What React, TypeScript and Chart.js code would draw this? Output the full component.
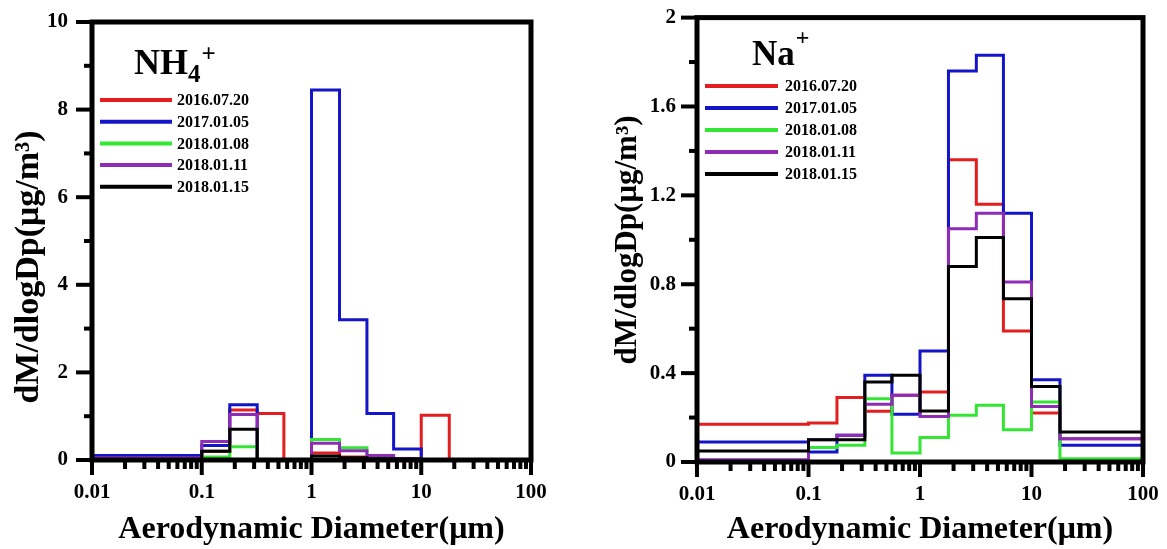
import React, { useEffect, useRef } from 'react';
import { Chart, registerables } from 'chart.js';

Chart.register(...registerables);

// ---------------- data ----------------
const BIN_EDGES = [0.01, 0.1, 0.18, 0.32, 0.56, 1.0, 1.8, 3.2, 5.6, 10, 18, 100];
const SERIES_LABELS = ['2016.07.20', '2017.01.05', '2018.01.08', '2018.01.11', '2018.01.15'];
const SERIES_COLORS = ['#e41e1e', '#1414c8', '#33e633', '#8e2cb5', '#000000'];

// NH4+  (one value per bin)
const NH4_20160720 = [0, 0.2, 1.14, 1.06, 0, 0.16, 0.07, 0.06, 0.02, 1.02, 0];
const NH4_20170105 = [0.1, 0.33, 1.26, 0, 0, 8.45, 3.2, 1.06, 0.25, 0, 0];
const NH4_20180108 = [0, 0.07, 0.3, 0, 0, 0.47, 0.28, 0.05, 0.02, 0, 0];
const NH4_20180111 = [0.05, 0.42, 1.04, 0, 0, 0.38, 0.21, 0.1, 0.03, 0, 0];
const NH4_20180115 = [0, 0.2, 0.7, 0, 0, 0.09, 0.05, 0.03, 0.02, 0, 0];

// Na+
const NA_20160720 = [0.17, 0.175, 0.29, 0.228, 0.3, 0.315, 1.36, 1.16, 0.59, 0.22, 0.105];
const NA_20170105 = [0.09, 0.045, 0.12, 0.39, 0.215, 0.5, 1.76, 1.83, 1.12, 0.37, 0.075];
const NA_20180108 = [0.0, 0.065, 0.075, 0.285, 0.04, 0.11, 0.21, 0.255, 0.145, 0.27, 0.015];
const NA_20180111 = [0.01, 0.1, 0.12, 0.26, 0.3, 0.205, 1.05, 1.12, 0.81, 0.25, 0.105];
const NA_20180115 = [0.05, 0.1, 0.1, 0.36, 0.39, 0.23, 0.88, 1.01, 0.735, 0.34, 0.135];

const X_TICK_LABELS = ['0.01', '0.1', '1', '10', '100'];
const NH4_Y_TICK_LABELS = ['0', '2', '4', '6', '8', '10'];
const NA_Y_TICK_LABELS = ['0', '0.4', '0.8', '1.2', '1.6', '2'];

const X_TITLE = 'Aerodynamic Diameter(\u03bcm)';
const Y_TITLE = 'dM/dlogDp(\u03bcg/m\u00b3)';

const FONT = '"Liberation Serif", "Times New Roman", serif';

// ---------------- helpers ----------------
const X_DECADES = X_TICK_LABELS.map((s) => parseFloat(s));
const X_TICK_VALUES: number[] = [];
X_DECADES.forEach((d, i) => {
  X_TICK_VALUES.push(d);
  if (i < X_DECADES.length - 1) for (let m = 2; m <= 9; m++) X_TICK_VALUES.push(d * m);
});

function xLabel(v: number): string {
  const l = Math.log10(v);
  if (Math.abs(l - Math.round(l)) < 1e-6) {
    const idx = Math.round(l) - Math.round(Math.log10(X_DECADES[0]));
    return X_TICK_LABELS[idx] ?? '';
  }
  return '';
}

function histPoints(vals: number[]) {
  const last = BIN_EDGES[BIN_EDGES.length - 1];
  const pts = [{ x: BIN_EDGES[0], y: 0 }];
  vals.forEach((v, i) => pts.push({ x: BIN_EDGES[i], y: v }));
  pts.push({ x: last, y: vals[vals.length - 1] });
  pts.push({ x: last, y: 0 });
  return pts;
}

type PanelCfg = {
  width: number;
  height: number;
  series: number[][];
  yMax: number;
  yStep: number;
  yLabels: string[];
  padTop: number;
  padRight: number;
  yAxisWidth: number;
  xAxisHeight: number;
  yLabelPad: number;
  ion: { main: string; sub: string; sup: string; x: number; y: number; size: number; subSize: number; subDy: number; supDy: number };
  legend: { x: number; y: number; dy: number; len: number; textX: number; size: number };
  yTitle: { x: number; y: number; size: number };
  xTitle: { y: number; size: number };
};

function Panel({ cfg }: { cfg: PanelCfg }) {
  const ref = useRef<HTMLCanvasElement | null>(null);

  useEffect(() => {
    if (!ref.current) return;
    const nY = Math.round(cfg.yMax / cfg.yStep) + 1;

    const decor = {
      id: 'decor',
      afterDraw(chart: any) {
        const ctx: CanvasRenderingContext2D = chart.ctx;
        const a = chart.chartArea;
        const xs = chart.scales.x;
        const ys = chart.scales.y;
        ctx.save();
        ctx.strokeStyle = '#000';
        ctx.fillStyle = '#000';
        // ticks
        ctx.lineWidth = 4;
        ctx.lineCap = 'butt';
        xs.ticks.forEach((t: any) => {
          const px = xs.getPixelForValue(t.value);
          const len = t.label !== '' ? 15 : 9;
          ctx.beginPath();
          ctx.moveTo(px, a.bottom);
          ctx.lineTo(px, a.bottom + len);
          ctx.stroke();
        });
        ys.ticks.forEach((t: any) => {
          const py = ys.getPixelForValue(t.value);
          const len = t.label !== '' ? 16 : 8;
          ctx.beginPath();
          ctx.moveTo(a.left, py);
          ctx.lineTo(a.left - len, py);
          ctx.stroke();
        });
        // frame
        ctx.lineWidth = 5;
        ctx.strokeRect(a.left, a.top, a.right - a.left, a.bottom - a.top);

        // legend
        const lg = cfg.legend;
        ctx.font = `bold ${lg.size}px ${FONT}`;
        ctx.textBaseline = 'middle';
        ctx.textAlign = 'left';
        SERIES_LABELS.forEach((lab, i) => {
          const y = lg.y + i * lg.dy;
          ctx.strokeStyle = SERIES_COLORS[i];
          ctx.lineWidth = 4;
          ctx.beginPath();
          ctx.moveTo(lg.x, y);
          ctx.lineTo(lg.x + lg.len, y);
          ctx.stroke();
          ctx.fillStyle = '#000';
          ctx.fillText(lab, lg.textX, y + 1);
        });

        // ion title
        const io = cfg.ion;
        ctx.textBaseline = 'alphabetic';
        ctx.font = `bold ${io.size}px ${FONT}`;
        ctx.fillText(io.main, io.x, io.y);
        let cx = io.x + ctx.measureText(io.main).width;
        ctx.font = `bold ${io.subSize}px ${FONT}`;
        if (io.sub) {
          ctx.fillText(io.sub, cx, io.y + io.subDy);
          cx += ctx.measureText(io.sub).width;
        }
        ctx.fillText(io.sup, cx + 1, io.y + io.supDy);

        // axis titles
        ctx.textAlign = 'center';
        ctx.textBaseline = 'middle';
        ctx.font = `bold ${cfg.xTitle.size}px ${FONT}`;
        ctx.fillText(X_TITLE, (a.left + a.right) / 2, cfg.xTitle.y);
        ctx.translate(cfg.yTitle.x, cfg.yTitle.y);
        ctx.rotate(-Math.PI / 2);
        ctx.font = `bold ${cfg.yTitle.size}px ${FONT}`;
        ctx.fillText(Y_TITLE, 0, 0);
        ctx.restore();
      },
    };

    const chart = new Chart(ref.current, {
      type: 'line',
      data: {
        datasets: cfg.series.map((vals, i) => ({
          label: SERIES_LABELS[i],
          data: histPoints(vals),
          borderColor: SERIES_COLORS[i],
          backgroundColor: SERIES_COLORS[i],
          borderWidth: 3,
          pointRadius: 0,
          stepped: 'before',
          fill: false,
          order: SERIES_LABELS.length - i,
        })),
      },
      options: {
        responsive: false,
        animation: false,
        events: [],
        layout: { padding: { left: 0, top: cfg.padTop, right: cfg.padRight, bottom: 0 } },
        plugins: { legend: { display: false }, tooltip: { enabled: false }, title: { display: false } },
        scales: {
          x: {
            type: 'logarithmic',
            min: X_DECADES[0],
            max: X_DECADES[X_DECADES.length - 1],
            afterBuildTicks: (s: any) => {
              s.ticks = X_TICK_VALUES.map((v) => ({ value: v }));
            },
            afterFit: (s: any) => {
              s.height = cfg.xAxisHeight;
            },
            grid: { display: false, drawTicks: true, tickLength: 16 },
            border: { display: false },
            ticks: {
              autoSkip: false,
              maxRotation: 0,
              minRotation: 0,
              padding: 4,
              color: '#000',
              font: { family: FONT, weight: 'bold', size: 21 },
              callback: (v: any) => xLabel(Number(v)),
            },
          },
          y: {
            type: 'linear',
            min: 0,
            max: cfg.yMax,
            afterBuildTicks: (s: any) => {
              s.ticks = Array.from({ length: nY }, (_, i) => ({ value: i * cfg.yStep }));
            },
            afterFit: (s: any) => {
              s.width = cfg.yAxisWidth;
            },
            grid: { display: false, drawTicks: true, tickLength: 16 },
            border: { display: false },
            ticks: {
              autoSkip: false,
              padding: cfg.yLabelPad,
              color: '#000',
              font: { family: FONT, weight: 'bold', size: 21 },
              callback: (_v: any, i: number) => (i % 2 === 0 ? cfg.yLabels[i / 2] ?? '' : ''),
            },
          },
        },
      } as any,
      plugins: [decor],
    });
    return () => chart.destroy();
  }, [cfg]);

  return <canvas ref={ref} width={cfg.width} height={cfg.height} style={{ display: 'block' }} />;
}

const LEFT_CFG: PanelCfg = {
  width: 580,
  height: 549,
  series: [NH4_20160720, NH4_20170105, NH4_20180108, NH4_20180111, NH4_20180115],
  yMax: 10,
  yStep: 1,
  yLabels: NH4_Y_TICK_LABELS,
  padTop: 22,
  padRight: 49,
  yAxisWidth: 92,
  xAxisHeight: 89,
  yLabelPad: 8,
  ion: { main: 'NH', sub: '4', sup: '+', x: 134, y: 74, size: 36, subSize: 25, subDy: 8, supDy: -12 },
  legend: { x: 100, y: 100, dy: 21.7, len: 72, textX: 177, size: 16 },
  yTitle: { x: 29, y: 267, size: 34 },
  xTitle: { y: 530, size: 32 },
};

const RIGHT_CFG: PanelCfg = {
  width: 587,
  height: 549,
  series: [NA_20160720, NA_20170105, NA_20180108, NA_20180111, NA_20180115],
  yMax: 2,
  yStep: 0.2,
  yLabels: NA_Y_TICK_LABELS,
  padTop: 14,
  padRight: 24,
  yAxisWidth: 117,
  xAxisHeight: 87,
  yLabelPad: 5,
  ion: { main: 'Na', sub: '', sup: '+', x: 172, y: 65, size: 35, subSize: 24, subDy: 0, supDy: -20 },
  legend: { x: 125, y: 86, dy: 22, len: 73, textX: 205, size: 16 },
  yTitle: { x: 48, y: 240, size: 31 },
  xTitle: { y: 530, size: 32 },
};

export default function App() {
  return (
    <div style={{ position: 'absolute', left: 0, top: 0, width: 1167, height: 549, background: '#fff', overflow: 'hidden' }}>
      <div style={{ position: 'absolute', left: 0, top: 0 }}>
        <Panel cfg={LEFT_CFG} />
      </div>
      <div style={{ position: 'absolute', left: 580, top: 0 }}>
        <Panel cfg={RIGHT_CFG} />
      </div>
    </div>
  );
}
